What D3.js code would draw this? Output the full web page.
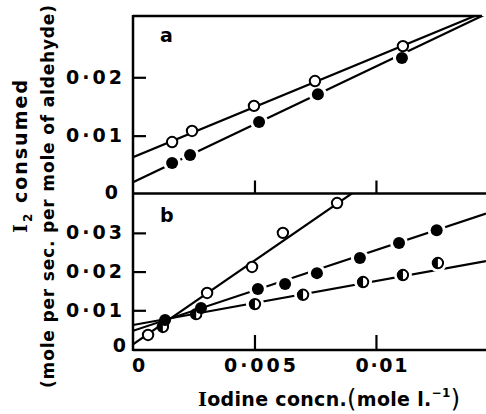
<!DOCTYPE html>
<html>
<head>
<meta charset="utf-8">
<script src="https://cdn.jsdelivr.net/npm/d3@7"></script>
<style>
  html, body { margin: 0; padding: 0; background: #fff; }
  svg { display: block; }
  text { font-family: "DejaVu Sans", sans-serif; fill: #000; }
</style>
</head>
<body>
<svg id="chart" width="486" height="414"></svg>
<script>
// Iodine concentration (mole l^-1)
const xTickValues = [0, 0.005, 0.01];
const xTickLabels = ["0", "0·005", "0·01"];
const yTickValuesA = [0, 0.01, 0.02];
const yTickLabelsA = ["0", "0·01", "0·02"];
const yTickValuesB = [0, 0.01, 0.02, 0.03];
const yTickLabelsB = ["0", "0·01", "0·02", "0·03"];

// Panel a
const aOpenX = [0.00161, 0.00243, 0.00498, 0.00749, 0.01111];
const aOpenY = [0.0089, 0.0108, 0.0151, 0.01935, 0.02534];
const aFilledX = [0.00161, 0.00235, 0.00519, 0.00761, 0.01107];
const aFilledY = [0.0053, 0.00668, 0.01233, 0.0171, 0.0233];
const aOpenFit = [[0, 0.0063], [0.01453, 0.0313]];
const aFilledFit = [[0, 0.0020], [0.01453, 0.03084]];

// Panel b
const bOpenX = [0.00062, 0.00305, 0.0049, 0.00617, 0.0084];
const bOpenY = [0.00362, 0.01447, 0.0212, 0.0300, 0.0377];
const bFilledX = [0.00132, 0.0028, 0.00514, 0.00626, 0.00757, 0.00934, 0.01095, 0.0125];
const bFilledY = [0.0075, 0.0106, 0.0155, 0.0168, 0.0196, 0.0235, 0.0274, 0.0307];
const bHalfX = [0.00123, 0.0026, 0.00502, 0.0070, 0.00947, 0.01111, 0.01255];
const bHalfY = [0.0057, 0.0090, 0.0116, 0.0140, 0.0173, 0.0191, 0.0222];
const bOpenFit = [[0, 0.0012], [0.0095, 0.0423]];
const bFilledFit = [[0, 0.0047], [0.01453, 0.0350]];
const bHalfFit = [[0, 0.0062], [0.01453, 0.0227]];

const svg = d3.select("#chart");
const left = 133, right = 486;
const topA = 16, sep = 193.5, bottomB = 350;

const x = d3.scaleLinear().domain([0, 0.01453]).range([left, right]);
const yA = d3.scaleLinear().domain([0, 0.0305]).range([194, 16]);
const yB = d3.scaleLinear().domain([0, 0.0403]).range([349, 193]);

const zip = (xs, ys) => xs.map((v, i) => [v, ys[i]]);

// clip regions for each panel
const defs = svg.append("defs");
defs.append("clipPath").attr("id", "clipA").append("rect")
  .attr("x", left).attr("y", topA).attr("width", right - left).attr("height", sep - topA);
defs.append("clipPath").attr("id", "clipB").append("rect")
  .attr("x", left).attr("y", sep).attr("width", right - left).attr("height", bottomB - sep);

// frame lines
const frame = svg.append("g").attr("stroke", "#000").attr("stroke-width", 2.5).attr("fill", "none");
frame.append("line").attr("x1", left).attr("x2", 482).attr("y1", topA).attr("y2", topA);
frame.append("line").attr("x1", left).attr("x2", right).attr("y1", sep).attr("y2", sep);
frame.append("line").attr("x1", left).attr("x2", right).attr("y1", bottomB).attr("y2", bottomB);
frame.append("line").attr("x1", left).attr("x2", left).attr("y1", topA - 1).attr("y2", bottomB + 1);

function styleAxis(g) {
  g.select(".domain").remove();
  g.selectAll(".tick line").attr("stroke", "#000").attr("stroke-width", 2.2);
  g.selectAll(".tick text").attr("font-size", 19).attr("font-weight", "bold");
}

// y axes
const axA = svg.append("g").attr("transform", `translate(${left},0)`)
  .call(d3.axisLeft(yA).tickValues(yTickValuesA)
    .tickFormat((d, i) => yTickLabelsA[i]).tickSizeInner(-13).tickSizeOuter(0).tickPadding(11));
styleAxis(axA);
const axB = svg.append("g").attr("transform", `translate(${left},0)`)
  .call(d3.axisLeft(yB).tickValues(yTickValuesB)
    .tickFormat((d, i) => yTickLabelsB[i]).tickSizeInner(-13).tickSizeOuter(0).tickPadding(11));
styleAxis(axB);
axA.selectAll(".tick").filter(d => d === 0).select("line").remove();
axB.selectAll(".tick").filter(d => d === 0).select("line").remove();
axA.selectAll(".tick").filter(d => d === 0).select("text").attr("y", -2).attr("x", -15);
axB.selectAll(".tick").filter(d => d === 0).select("text").attr("y", -4).attr("x", -7);
axA.selectAll(".tick text").filter(d => d !== 0).attr("textLength", 56).attr("lengthAdjust", "spacing");
axB.selectAll(".tick text").filter(d => d !== 0).attr("textLength", 56).attr("lengthAdjust", "spacing");

// x axis along the bottom of panel b
const axX = svg.append("g").attr("transform", `translate(0,${bottomB})`)
  .call(d3.axisBottom(x).tickValues(xTickValues)
    .tickFormat((d, i) => xTickLabels[i]).tickSizeInner(-15).tickSizeOuter(0).tickPadding(9));
styleAxis(axX);
axX.selectAll(".tick").filter(d => d === 0).select("line").remove();
axX.selectAll(".tick text").attr("font-size", 19).attr("dx", 5);
axX.selectAll(".tick text").filter((d, i) => i === 1).attr("textLength", 72).attr("lengthAdjust", "spacing");
axX.selectAll(".tick text").filter((d, i) => i === 2).attr("textLength", 52).attr("lengthAdjust", "spacing");

// x ticks along the bottom of panel a (no labels)
const axXA = svg.append("g").attr("transform", `translate(0,${sep})`)
  .call(d3.axisBottom(x).tickValues(xTickValues.filter(v => v > 0))
    .tickFormat("").tickSizeInner(-13).tickSizeOuter(0));
styleAxis(axXA);

const line = d3.line().x(d => x(d[0]));

function drawFit(g, fit, yScale) {
  g.append("path").datum(fit)
    .attr("d", line.y(d => yScale(d[1])))
    .attr("fill", "none").attr("stroke", "#000").attr("stroke-width", 2.2);
}
function drawHalo(g, pts, yScale) {
  g.selectAll(null).data(pts).join("circle")
    .attr("cx", d => x(d[0])).attr("cy", d => yScale(d[1])).attr("r", 9).attr("fill", "#fff");
}
function drawOpen(g, pts, yScale) {
  g.selectAll(null).data(pts).join("circle")
    .attr("cx", d => x(d[0])).attr("cy", d => yScale(d[1])).attr("r", 5.2)
    .attr("fill", "#fff").attr("stroke", "#000").attr("stroke-width", 2);
}
function drawFilled(g, pts, yScale) {
  g.selectAll(null).data(pts).join("circle")
    .attr("cx", d => x(d[0])).attr("cy", d => yScale(d[1])).attr("r", 6).attr("fill", "#000");
}
function drawHalf(g, pts, yScale) {
  const r = 5.2;
  const s = g.selectAll(null).data(pts).join("g")
    .attr("transform", d => `translate(${x(d[0])},${yScale(d[1])})`);
  s.append("circle").attr("r", r).attr("fill", "#fff").attr("stroke", "#000").attr("stroke-width", 2);
  s.append("path").attr("d", `M0,${-r} A${r},${r} 0 0,0 0,${r} Z`).attr("fill", "#000");
}

// panel a
const gA = svg.append("g").attr("clip-path", "url(#clipA)");
drawFit(gA, aOpenFit, yA);
drawFit(gA, aFilledFit, yA);
drawHalo(gA, zip(aFilledX, aFilledY), yA);
drawOpen(gA, zip(aOpenX, aOpenY), yA);
drawFilled(gA, zip(aFilledX, aFilledY), yA);

// panel b
const gB = svg.append("g").attr("clip-path", "url(#clipB)");
drawFit(gB, bOpenFit, yB);
drawFit(gB, bFilledFit, yB);
drawFit(gB, bHalfFit, yB);
drawHalo(gB, zip(bFilledX, bFilledY).slice(2), yB);
drawHalo(gB, zip(bHalfX, bHalfY).slice(2), yB);
drawOpen(gB, zip(bOpenX, bOpenY), yB);
drawHalf(gB, zip(bHalfX, bHalfY), yB);
drawFilled(gB, zip(bFilledX, bFilledY), yB);

// panel letters
svg.append("text").attr("x", 160).attr("y", 42).attr("font-size", 19).attr("font-weight", "bold").text("a");
svg.append("text").attr("x", 160).attr("y", 222).attr("font-size", 19).attr("font-weight", "bold").text("b");

// x title
const xt = svg.append("text").attr("x", 198).attr("y", 406)
  .attr("font-size", 19).attr("font-weight", "bold")
  .attr("textLength", 262).attr("lengthAdjust", "spacing");
xt.append("tspan").attr("font-family", "DejaVu Serif").text("I");
xt.append("tspan").text("odine concn.");
xt.append("tspan").attr("font-size", 24).attr("font-weight", "normal").attr("dy", 1).text("(");
xt.append("tspan").attr("dy", -1).text("mole l.");
xt.append("tspan").attr("font-size", 12).attr("dy", -9).text("−1");
xt.append("tspan").attr("font-size", 24).attr("font-weight", "normal").attr("dy", 10).text(")");

// y title, two rotated lines
const yt1 = svg.append("text").attr("transform", "translate(27,233) rotate(-90)")
  .attr("font-size", 19).attr("font-weight", "bold")
  .attr("textLength", 153).attr("lengthAdjust", "spacing");
yt1.append("tspan").attr("font-family", "DejaVu Serif").text("I");
yt1.append("tspan").attr("font-size", 12).attr("dy", 5).text("2");
yt1.append("tspan").attr("dy", -5).text(" consumed");

svg.append("text").attr("transform", "translate(54,388) rotate(-90)")
  .attr("font-size", 17).attr("font-weight", "bold")
  .attr("textLength", 383).attr("lengthAdjust", "spacing")
  .text("(mole per sec. per mole of aldehyde)");
</script>
</body>
</html>
